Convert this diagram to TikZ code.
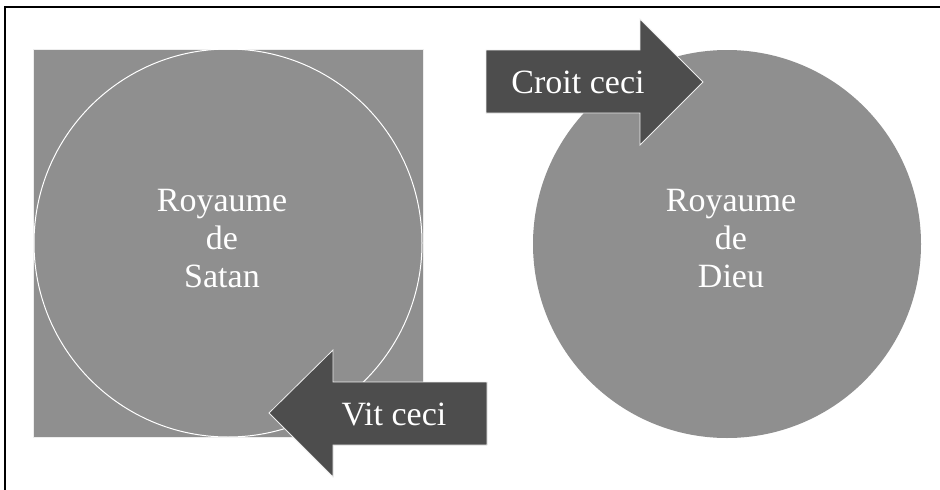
\documentclass[tikz,border=0pt]{standalone}
\usepackage{fontspec}
\setmainfont{Liberation Serif}
\definecolor{panelgray}{HTML}{8F8F8F}
\definecolor{arrowgray}{HTML}{4D4D4D}
\definecolor{edgelight}{HTML}{EDEDED}
\tikzset{
  panel/.style={fill=panelgray, draw=edgelight, line width=1pt},
  ring/.style={draw=white, line width=1pt},
  bigarrow/.style={fill=arrowgray, draw=edgelight, line width=0.8pt, line join=miter},
  label/.style={text=white, font=\fontsize{34}{38}\selectfont, align=center, inner sep=0pt},
  frameline/.style={draw=black, line width=2pt}
}
\begin{document}
\begin{tikzpicture}[x=1pt,y=-1pt]
\useasboundingbox (0,0) rectangle (940,490);
% frame (top and left edges only)
\draw[frameline] (5,490) -- (5,6.5) -- (940,6.5);
% left panel
\path[panel] (33,49) rectangle (423,437);
\node[ring, circle, minimum size=388pt, inner sep=0pt] (satan) at (228,243) {};
% right circle
\node[circle, fill=panelgray, minimum size=388pt, inner sep=0pt] (dieu) at (727,244) {};
% arrow Vit ceci
\path[bigarrow] (487,382) -- (333,382) -- (333,350) -- (269,413) -- (333,477) -- (333,445) -- (487,445) -- cycle;
% arrow Croit ceci
\path[bigarrow] (486,50) -- (640,50) -- (640,19) -- (703,82) -- (640,145) -- (640,113) -- (486,113) -- cycle;
% texts
\node[label] (tsatan) at (222,239) {Royaume\\de\\Satan};
\node[label] (tdieu) at (731,239) {Royaume\\de\\Dieu};
\node[label] (tvit) at (394,414) {Vit ceci};
\node[label] (tcroit) at (578,82) {Croit ceci};
\end{tikzpicture}
\end{document}
